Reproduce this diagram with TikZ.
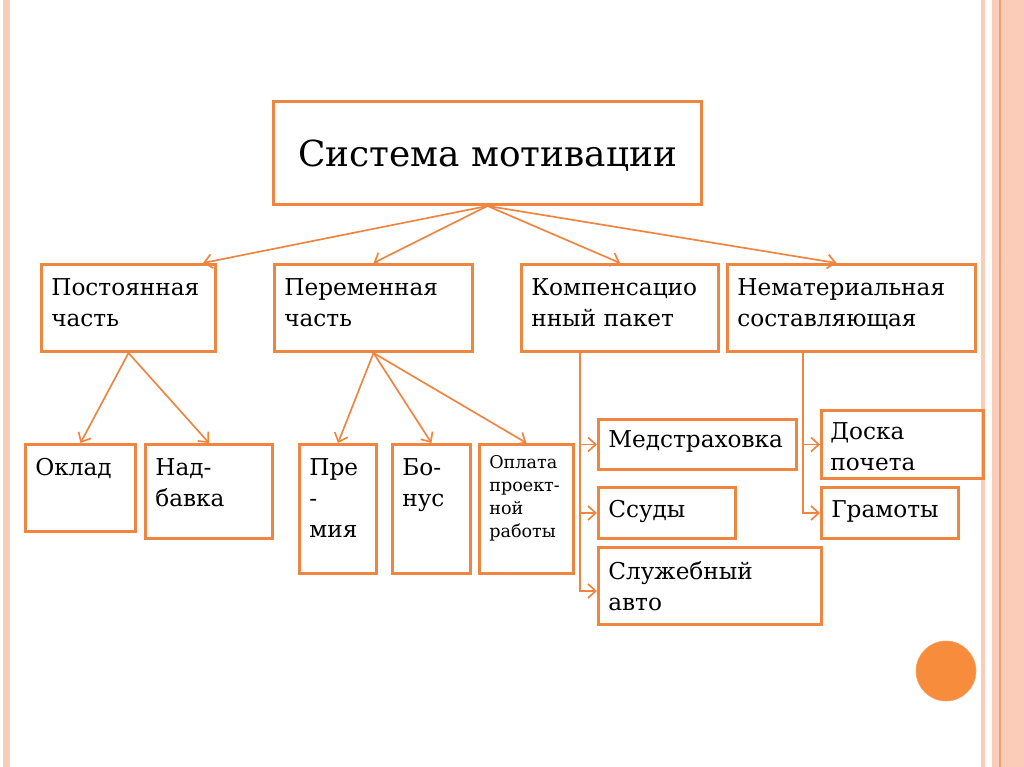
\documentclass[tikz,border=0pt]{standalone}
\usepackage{fontspec}
\setmainfont{DejaVu Serif}
\usetikzlibrary{calc,arrows.meta}

\definecolor{boxorange}{RGB}{238,133,64}
\definecolor{dotorange}{RGB}{247,140,60}
\definecolor{stripe}{RGB}{250,205,185}
\definecolor{stripedark}{RGB}{235,160,120}

\tikzset{
  box/.style={draw=boxorange, line width=2.1pt, anchor=north west, inner sep=0pt},
  txt/.style={anchor=north west, inner sep=0pt, align=left, font=\fontsize{16.5}{22}\selectfont},
  smalltxt/.style={txt, font=\fontsize{12.5}{16.5}\selectfont},
  link/.style={draw=boxorange, line width=1.2pt, -{Straight Barb[length=5.5pt,width=10pt]}},
  trunk/.style={draw=boxorange, line width=1.2pt}
}

\begin{document}
\begin{tikzpicture}[x=0.025cm, y=-0.025cm]
    \useasboundingbox (0,0) rectangle (1024,767);

    % Stripes
    \fill[stripe] (3,0) rectangle (10,767);
    \fill[stripe] (981,0) rectangle (985,767);
    \fill[stripe] (992,0) rectangle (1024,767);
    \draw[stripedark, line width=0.8pt] (1000,0) -- (1000,767);

    % Top box
    \node[box, minimum width=10.7cm, minimum height=2.575cm] (sys) at (272,100) {};
    \node[font=\fontsize{25.5}{30}\selectfont] (sys-t) at ($(sys.center)+(0,3)$) {Система мотивации};

    % Second row
    \node[box, minimum width=4.35cm, minimum height=2.175cm] (post) at (40,263) {};
    \node[box, minimum width=4.95cm, minimum height=2.175cm] (perem) at (273,263) {};
    \node[box, minimum width=4.925cm, minimum height=2.175cm] (komp) at (520,263) {};
    \node[box, minimum width=6.2cm, minimum height=2.175cm] (nemat) at (726,263) {};
    \node[txt] (post-t) at ($(post.north west)+(11,15)$) {Постоянная\\часть};
    \node[txt] (perem-t) at ($(perem.north west)+(11,15)$) {Переменная\\часть};
    \node[txt] (komp-t) at ($(komp.north west)+(11,15)$) {Компенсацио\\нный пакет};
    \node[txt] (nemat-t) at ($(nemat.north west)+(11,15)$) {Нематериальная\\составляющая};

    % Third row
    \node[box, minimum width=2.75cm, minimum height=2.175cm] (oklad) at (24,443) {};
    \node[box, minimum width=3.175cm, minimum height=2.35cm] (nadb) at (144,443) {};
    \node[box, minimum width=1.925cm, minimum height=3.225cm] (prem) at (298,443) {};
    \node[box, minimum width=1.95cm, minimum height=3.225cm] (bonus) at (391,443) {};
    \node[box, minimum width=2.35cm, minimum height=3.225cm] (oplata) at (478,443) {};
    \node[txt] (oklad-t) at ($(oklad.north west)+(11,15)$) {Оклад};
    \node[txt] (nadb-t) at ($(nadb.north west)+(11,15)$) {Над-\\бавка};
    \node[txt] (prem-t) at ($(prem.north west)+(11,15)$) {Пре\\-\\мия};
    \node[txt] (bonus-t) at ($(bonus.north west)+(11,15)$) {Бо-\\нус};
    \node[smalltxt] (oplata-t) at ($(oplata.north west)+(11,12)$) {Оплата\\проект-\\ной\\работы};

    % Compensation package
    \node[box, minimum width=4.95cm, minimum height=1.25cm] (med) at (597,418) {};
    \node[box, minimum width=3.425cm, minimum height=1.275cm] (ssud) at (597,486) {};
    \node[box, minimum width=5.575cm, minimum height=1.925cm] (auto) at (597,546) {};
    \node[txt] (med-t) at ($(med.north west)+(11,12)$) {Медстраховка};
    \node[txt] (ssud-t) at ($(ssud.north west)+(11,14)$) {Ссуды};
    \node[txt] (auto-t) at ($(auto.north west)+(11,15)$) {Служебный\\авто};

    % Non-material part
    \node[box, minimum width=4.05cm, minimum height=1.7cm] (doska) at (820,409) {};
    \node[box, minimum width=3.425cm, minimum height=1.275cm] (gram) at (820,486) {};
    \node[txt] (doska-t) at ($(doska.north west)+(10,13)$) {Доска\\почета};
    \node[txt] (gram-t) at ($(gram.north west)+(11,14)$) {Грамоты};

    % Dot
    \node[circle, fill=dotorange, draw=dotorange!80!white, minimum size=1.5cm] (dot) at (946,671) {};

    % Arrows from the top
    \draw[link] (sys.south) -- ($(post.north east)+(-14,0)$);
    \draw[link] (sys.south) -- (perem.north);
    \draw[link] (sys.south) -- (komp.north);
    \draw[link] (sys.south) -- ($(nemat.north)+(-15,0)$);

    % Arrows to the third row
    \draw[link] (post.south) -- (oklad.north);
    \draw[link] (post.south) -- (nadb.north);
    \draw[link] (perem.south) -- (prem.north);
    \draw[link] (perem.south) -- (bonus.north);
    \draw[link] (perem.south) -- (oplata.north);

    % Trunks
    \coordinate (kt) at ($(komp.south west)+(60,0)$);
    \coordinate (nt) at ($(nemat.south west)+(77,0)$);
    \draw[link] (kt) |- (med.west);
    \draw[link] (kt) |- (ssud.west);
    \draw[link] (kt) |- ($(auto.west)+(0,5)$);
    \draw[link] (nt) |- (doska.west);
    \draw[link] (nt) |- (gram.west);
\end{tikzpicture}
\end{document}
